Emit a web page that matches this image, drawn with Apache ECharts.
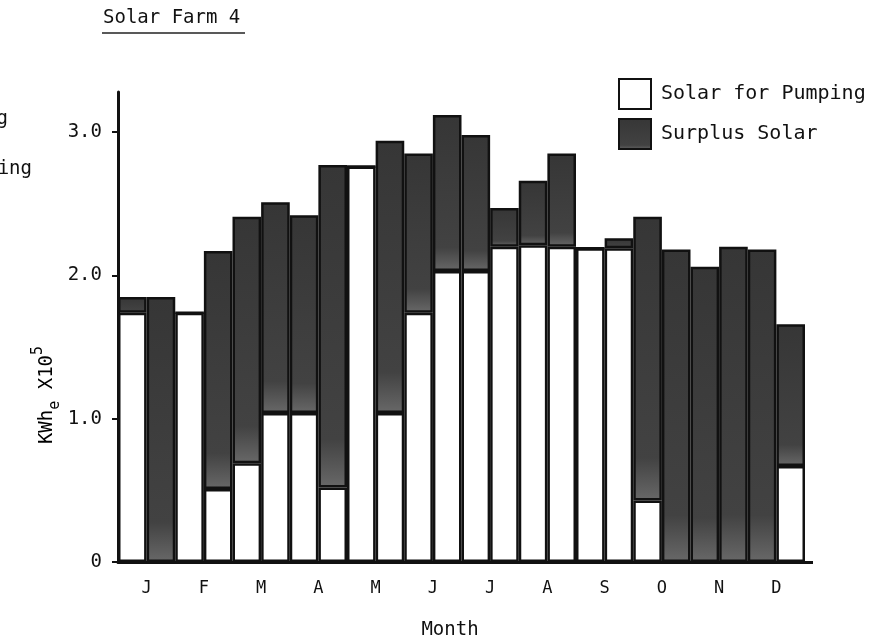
<!DOCTYPE html>
<html>
<head>
<meta charset="utf-8">
<style>
  html, body { margin: 0; padding: 0; background: #fff; }
  #chart-container { width: 881px; height: 643px; }
</style>
<script src="https://cdn.jsdelivr.net/npm/echarts@6.0.0/dist/echarts.min.js"></script>
</head>
<body>
<div id="chart-container"></div>
<script>
// half-month periods, two per month
const periods = [
  "Jan 1", "Jan 2", "Feb 1", "Feb 2", "Mar 1", "Mar 2", "Apr 1", "Apr 2",
  "May 1", "May 2", "Jun 1", "Jun 2", "Jul 1", "Jul 2", "Aug 1", "Aug 2",
  "Sep 1", "Sep 2", "Oct 1", "Oct 2", "Nov 1", "Nov 2", "Dec 1", "Dec 2"
];
const months = ["J", "F", "M", "A", "M", "J", "J", "A", "S", "O", "N", "D"];

// KWh_e x 10^5
const solarForPumping = [
  1.74, 0, 1.74, 0.51, 0.69, 1.04, 1.04, 0.52,
  2.76, 1.04, 1.74, 2.03, 2.03, 2.20, 2.21, 2.20,
  2.19, 2.19, 0.43, 0, 0, 0, 0, 0.67
];
const surplusSolar = [
  0.11, 1.85, 0, 1.66, 1.72, 1.47, 1.38, 2.25,
  0, 1.90, 1.11, 1.09, 0.95, 0.27, 0.45, 0.65,
  0, 0.07, 1.98, 2.18, 2.06, 2.20, 2.18, 0.99
];
const yTicks = [0, 1, 2, 3];

const mono = "DejaVu Sans Mono";
const ink = "#111";

const dom = document.getElementById("chart-container");
const myChart = echarts.init(dom, null, { renderer: "canvas" });

const option = {
  backgroundColor: "#fff",
  animation: false,
  textStyle: { fontFamily: mono, color: ink },
  legend: {
    orient: "vertical",
    left: 613,
    top: 73,
    padding: 5,
    icon: "rect",
    itemWidth: 32,
    itemHeight: 30,
    itemGap: 8,
    textStyle: { fontFamily: mono, fontSize: 20, color: ink, padding: [0, 0, 0, 5] },
    data: ["Solar for Pumping", "Surplus Solar"]
  },
  grid: { left: 118, right: 76, top: 92, bottom: 81 },
  xAxis: [
    {
      type: "category",
      data: periods,
      axisLine: { show: false },
      axisTick: { show: false },
      axisLabel: { show: false }
    },
    {
      type: "category",
      data: months,
      position: "bottom",
      axisLine: { lineStyle: { color: ink, width: 3 } },
      axisTick: { length: 8, lineStyle: { color: ink, width: 3 } },
      axisLabel: { fontFamily: mono, fontSize: 17, color: ink, margin: 18 }
    }
  ],
  yAxis: {
    type: "value",
    min: 0,
    max: 3.28,
    splitLine: { show: false },
    axisLine: { show: true, lineStyle: { color: ink, width: 3 } },
    axisTick: { show: true, length: 6, customValues: yTicks, lineStyle: { color: ink, width: 2 } },
    axisLabel: {
      customValues: yTicks,
      fontFamily: mono,
      fontSize: 19,
      color: ink,
      margin: 16,
      formatter: (v) => (v === 0 ? "0" : v.toFixed(1))
    }
  },
  series: [
    {
      name: "Solar for Pumping",
      type: "bar",
      stack: "total",
      xAxisIndex: 0,
      barCategoryGap: "0%",
      data: solarForPumping,
      itemStyle: { color: "#fff", borderColor: ink, borderWidth: 2.5 }
    },
    {
      name: "Surplus Solar",
      type: "bar",
      stack: "total",
      xAxisIndex: 0,
      barCategoryGap: "0%",
      data: surplusSolar,
      itemStyle: {
        color: {
          type: "linear", x: 0, y: 0, x2: 0, y2: 1,
          colorStops: [
            { offset: 0, color: "#363636" },
            { offset: 0.85, color: "#424242" },
            { offset: 1, color: "#686868" }
          ]
        },
        borderColor: ink,
        borderWidth: 2.5
      }
    }
  ],
  graphic: [
    {
      type: "text",
      x: 103,
      y: 18,
      style: { text: "Solar Farm 4", font: "19px " + mono, fill: ink, verticalAlign: "middle" }
    },
    {
      type: "line",
      shape: { x1: 102, y1: 33, x2: 245, y2: 33 },
      style: { stroke: "#222", lineWidth: 1.5 }
    },
    {
      // x axis line runs a little past the last bar
      type: "line",
      shape: { x1: 804, y1: 562.5, x2: 813, y2: 562.5 },
      style: { stroke: ink, lineWidth: 3 }
    },
    {
      type: "text",
      x: 412,
      y: 5,
      style: { text: "Month", font: "19px " + mono, fill: ink, verticalAlign: "bottom" }
    },
    {
      type: "text",
      x: 8,
      y: 119,
      style: { text: "Pumping", font: "19px " + mono, fill: ink, align: "right", verticalAlign: "middle" }
    },
    {
      type: "text",
      x: 32,
      y: 169,
      style: { text: "Pumping", font: "19px " + mono, fill: ink, align: "right", verticalAlign: "middle" }
    },
    {
      type: "text",
      x: 450,
      y: 630,
      style: { text: "Month", font: "19px " + mono, fill: ink, align: "center", verticalAlign: "middle" }
    },
    {
      type: "text",
      x: 47,
      y: 395,
      rotation: Math.PI / 2,
      style: {
        text: "{a|KWh}{s|e}{a| X10}{p|5}",
        align: "center",
        verticalAlign: "middle",
        rich: {
          a: { fontFamily: mono, fontSize: 19, color: ink, lineHeight: 32, verticalAlign: "middle" },
          s: { fontFamily: mono, fontSize: 15, color: ink, lineHeight: 32, verticalAlign: "bottom" },
          p: { fontFamily: mono, fontSize: 15, color: ink, lineHeight: 32, verticalAlign: "top" }
        }
      }
    }
  ]
};

myChart.setOption(option);
window.addEventListener("resize", myChart.resize);
</script>
</body>
</html>
